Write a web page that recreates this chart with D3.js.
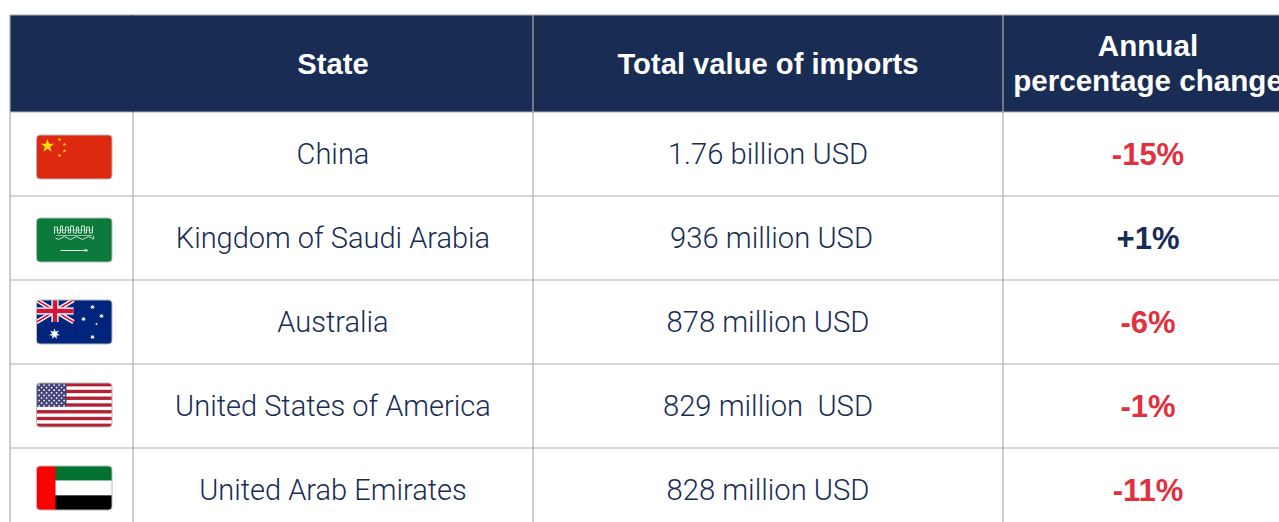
<!DOCTYPE html>
<html>
<head>
<meta charset="utf-8">
<script src="https://cdn.jsdelivr.net/npm/d3@7"></script>
<style>
    html, body { margin: 0; padding: 0; background: #fff; overflow: hidden; }
    text { white-space: pre; }
</style>
</head>
<body>
<div id="table"></div>
<script>
// Table contents
let states = ['China', 'Kingdom of Saudi Arabia', 'Australia', 'United States of America', 'United Arab Emirates'];
let imports = ['1.76 billion USD', ' 936 million USD', '878 million USD', '829 million  USD', '828 million USD'];
let changes = ['-15%', '+1%', '-6%', '-1%', '-11%'];
let flags = ['cn', 'sa', 'au', 'us', 'ae'];
let headers = ['State', 'Total value of imports'];
let lastHeader = ['Annual', 'percentage change'];

let svgWidth = 1279;
let svgHeight = 522;

let navy = '#182c54';
let red = '#e1303e';
let gridColor = '#b0aeae';
let bodyFont = 'Roboto, sans-serif';
let boldFont = '"Liberation Sans", Arial, sans-serif';

let svg = d3.select('#table')
    .append('svg')
    .attr('width', svgWidth)
    .attr('height', svgHeight)
    .style('display', 'block');

// column edges, left to right
let colEdges = [10, 133, 533, 1003, 1293];
let colCenter = i => (colEdges[i] + colEdges[i + 1]) / 2;

let rowScale = d3.scaleBand()
    .domain(states)
    .range([112, 532]);

// header block
svg.append('rect')
    .attr('x', colEdges[0])
    .attr('y', 15)
    .attr('width', colEdges[4] - colEdges[0])
    .attr('height', 97)
    .attr('fill', navy);

// grid lines
let grid = svg.append('g')
    .attr('stroke', gridColor)
    .attr('stroke-width', 1.2);

grid.append('line')
    .attr('x1', colEdges[0]).attr('x2', colEdges[4])
    .attr('y1', 15).attr('y2', 15)
    .attr('stroke', '#a9a9ab');

states.forEach(function(s) {
    grid.append('line')
        .attr('x1', colEdges[0]).attr('x2', colEdges[4])
        .attr('y1', rowScale(s)).attr('y2', rowScale(s));
});

colEdges.slice(0, 4).forEach(function(x, i) {
    grid.append('line')
        .attr('x1', x).attr('x2', x)
        .attr('y1', i === 1 ? 112 : 15).attr('y2', svgHeight);
});

// faint seam in the header over the flag column
svg.append('line')
    .attr('x1', colEdges[1]).attr('x2', colEdges[1])
    .attr('y1', 15).attr('y2', 112)
    .attr('stroke', '#1c2f57');

// header text
headers.forEach(function(h, i) {
    svg.append('text')
        .attr('x', colCenter(i + 1))
        .attr('y', 73.5)
        .attr('text-anchor', 'middle')
        .attr('font-family', boldFont)
        .attr('font-weight', 700)
        .attr('font-size', 29.2)
        .attr('fill', '#fff')
        .text(h);
});

lastHeader.forEach(function(h, i) {
    svg.append('text')
        .attr('x', colCenter(3))
        .attr('y', 56 + i * 35)
        .attr('text-anchor', 'middle')
        .attr('font-family', boldFont)
        .attr('font-weight', 700)
        .attr('font-size', 29.6)
        .attr('fill', '#fff')
        .text(h);
});

// body text
function addColumn(values, col, font, weight, size, color, dy) {
    svg.append('g').selectAll('text')
        .data(values)
        .enter()
        .append('text')
        .attr('x', colCenter(col))
        .attr('y', (d, i) => rowScale(states[i]) + dy)
        .attr('text-anchor', 'middle')
        .attr('font-family', font)
        .attr('font-weight', weight)
        .attr('font-size', size)
        .attr('fill', color)
        .text(d => d);
}

addColumn(states, 1, bodyFont, 300, 29, navy, 52);
addColumn(imports, 2, bodyFont, 300, 29.2, navy, 52);
addColumn(changes, 3, boldFont, 700, 31, d => d[0] === '+' ? navy : red, 52.5);

// flags, drawn in a 75.5 x 44 box
let flagW = 75.5;
let flagH = 44;
let flagTop = [23, 22, 20, 19, 18];

function star(g, cx, cy, r, color, points = 5, inner = 0.4) {
    let pts = d3.range(points * 2).map(function(k) {
        let a = -Math.PI / 2 + k * Math.PI / points;
        let rad = k % 2 ? r * inner : r;
        return [cx + rad * Math.cos(a), cy + rad * Math.sin(a)];
    });
    g.append('polygon').attr('points', pts.join(' ')).attr('fill', color);
}

function bar(g, x, y, w, h, color) {
    g.append('rect').attr('x', x).attr('y', y).attr('width', w).attr('height', h).attr('fill', color);
}

let drawFlag = {
    cn: function(g) {
        bar(g, 0, 0, flagW, flagH, '#de2910');
        star(g, 11, 11, 7, '#ffde00');
        star(g, 23, 4.5, 2, '#ffde00');
        star(g, 28, 9.5, 2, '#ffde00');
        star(g, 28, 16, 2, '#ffde00');
        star(g, 23, 20.5, 2, '#ffde00');
    },
    sa: function(g) {
        bar(g, 0, 0, flagW, flagH, '#0b7a3a');
        // script band, roughly
        let script = g.append('g').attr('fill', 'none').attr('stroke', '#cfe3d6').attr('stroke-width', 1);
        script.append('path').attr('d', 'M18 16 v-7 h3 v6 h3 v-7 h2 v7 h3 v-6 h3 v6 h2 v-7 h3 v7 h3 v-6 h2 v6 h3 v-7 h3 v7 h2 v-6 h3 v6 h3 v-7');
        script.append('path').attr('d', 'M19 20 q3 3 6 0 t6 0 t6 0 t6 0 t6 0 t6 0 t2 -2');
        script.append('path').attr('d', 'M19 12 h37 M20 17.5 h36').attr('stroke-width', 0.7);
        // sword
        bar(g, 24, 32, 24, 1, '#e6f1e9');
        bar(g, 48, 31.4, 3, 2, '#e6f1e9');
    },
    au: function(g) {
        bar(g, 0, 0, flagW, flagH, '#01247d');
        let w = 37;
        let h = 22;
        let uj = g.append('g').attr('fill', 'none');
        uj.append('path').attr('d', `M0 0L${w} ${h}M${w} 0L0 ${h}`).attr('stroke', '#fff').attr('stroke-width', 4.4);
        uj.append('path').attr('d', `M0 0L${w} ${h}M${w} 0L0 ${h}`).attr('stroke', '#d8133a').attr('stroke-width', 1.5);
        bar(g, w / 2 - 3.6, 0, 7.2, h, '#fff');
        bar(g, 0, h / 2 - 3.6, w, 7.2, '#fff');
        bar(g, w / 2 - 2.2, 0, 4.4, h, '#d8133a');
        bar(g, 0, h / 2 - 2.2, w, 4.4, '#d8133a');
        star(g, 18, 34, 5.6, '#fff', 7, 0.45);
        star(g, 56, 7, 2.6, '#fff', 7, 0.45);
        star(g, 47, 19, 2.6, '#fff', 7, 0.45);
        star(g, 65, 16, 2.6, '#fff', 7, 0.45);
        star(g, 60, 24, 1.4, '#fff', 5, 0.45);
        star(g, 56, 37, 2.6, '#fff', 7, 0.45);
    },
    us: function(g) {
        bar(g, 0, 0, flagW, flagH, '#fff');
        let stripe = flagH / 13;
        d3.range(0, 13, 2).forEach(k => bar(g, 0, k * stripe, flagW, stripe, '#b22234'));
        bar(g, 0, 0, 30, stripe * 7, '#46467c');
        d3.range(9).forEach(function(r) {
            d3.range(r % 2 ? 5 : 6).forEach(function(c) {
                g.append('circle')
                    .attr('cx', 2.6 + c * 5 + (r % 2 ? 2.5 : 0))
                    .attr('cy', 2 + r * 2.6)
                    .attr('r', 0.85)
                    .attr('fill', '#fff');
            });
        });
    },
    ae: function(g) {
        bar(g, 0, 0, flagW, flagH / 3, '#00732f');
        bar(g, 0, flagH / 3, flagW, flagH / 3, '#fff');
        bar(g, 0, 2 * flagH / 3, flagW, flagH / 3, '#000');
        bar(g, 0, 0, 19, flagH, '#ff0000');
    }
};

flags.forEach(function(f, i) {
    let g = svg.append('g')
        .attr('transform', `translate(36.5, ${rowScale(states[i]) + flagTop[i]})`);
    g.append('clipPath').attr('id', 'clip-' + f)
        .append('rect').attr('width', flagW).attr('height', flagH).attr('rx', 3.5);
    let inner = g.append('g').attr('clip-path', `url(#clip-${f})`);
    drawFlag[f](inner);
    g.append('rect')
        .attr('width', flagW).attr('height', flagH).attr('rx', 3.5)
        .attr('fill', 'none')
        .attr('stroke', '#b9b9b9')
        .attr('stroke-width', 1);
});
</script>
</body>
</html>
